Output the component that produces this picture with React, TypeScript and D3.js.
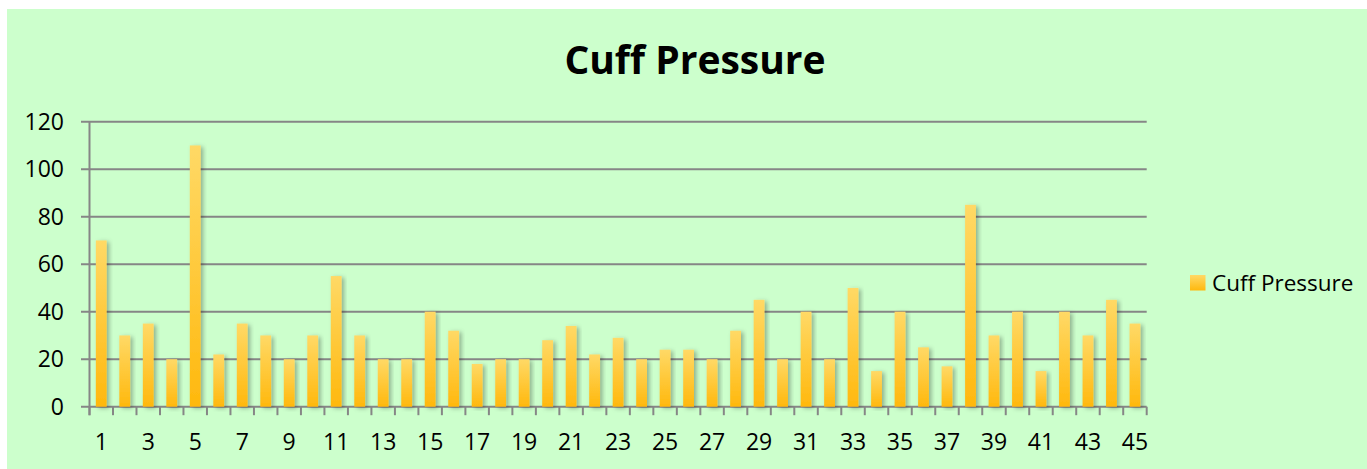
import React, { useRef, useEffect } from "react";
import * as d3 from "d3";

const categories = [
  1, 2, 3, 4, 5, 6, 7, 8, 9, 10, 11, 12, 13, 14, 15, 16, 17, 18, 19, 20, 21, 22, 23,
  24, 25, 26, 27, 28, 29, 30, 31, 32, 33, 34, 35, 36, 37, 38, 39, 40, 41, 42, 43, 44, 45,
];
const cuffPressure = [
  70, 30, 35, 20, 110, 22, 35, 30, 20, 30, 55, 30, 20, 20, 40, 32, 18, 20, 20, 28, 34, 22, 29,
  20, 24, 24, 20, 32, 45, 20, 40, 20, 50, 15, 40, 25, 17, 85, 30, 40, 15, 40, 30, 45, 35,
];
const yTicks = [0, 20, 40, 60, 80, 100, 120];
const seriesName = "Cuff Pressure";
const title = "Cuff Pressure";

const App = () => {
  const svgRef = useRef<SVGSVGElement>(null);

  useEffect(() => {
    const width = 1367;
    const height = 469;
    const left = 89.5;
    const right = 1146.7;
    const top = 121.7;
    const bottom = 406.7;
    const font = "'Open Sans', sans-serif";
    const gridColor = "#868686";

    const svg = d3.select(svgRef.current);
    svg.selectAll("*").remove();
    svg.attr("width", width).attr("height", height);

    const defs = svg.append("defs");
    const grad = defs
      .append("linearGradient")
      .attr("id", "barGrad")
      .attr("x1", 0)
      .attr("y1", 0)
      .attr("x2", 0)
      .attr("y2", 1);
    grad.append("stop").attr("offset", "0%").attr("stop-color", "#ffd966");
    grad.append("stop").attr("offset", "100%").attr("stop-color", "#ffb80d");

    const shadow = defs
      .append("filter")
      .attr("id", "shadow")
      .attr("x", "-50%")
      .attr("y", "-10%")
      .attr("width", "200%")
      .attr("height", "120%");
    shadow
      .append("feDropShadow")
      .attr("dx", 2.5)
      .attr("dy", 1.5)
      .attr("stdDeviation", 2)
      .attr("flood-color", "#000")
      .attr("flood-opacity", 0.3);

    // background
    svg
      .append("rect")
      .attr("x", 7)
      .attr("y", 9)
      .attr("width", width - 7)
      .attr("height", height - 9)
      .attr("fill", "#ccffcc");

    const x = d3
      .scaleBand<number>()
      .domain(categories)
      .range([left, right])
      .paddingInner(0.54)
      .paddingOuter(0.27);
    const step = (right - left) / categories.length;
    const y = d3.scaleLinear().domain([0, 120]).range([bottom, top]);

    // gridlines + y ticks
    svg
      .append("g")
      .selectAll("line")
      .data(yTicks)
      .join("line")
      .attr("x1", left - 8.5)
      .attr("x2", right)
      .attr("y1", (d) => y(d))
      .attr("y2", (d) => y(d))
      .attr("stroke", gridColor)
      .attr("stroke-width", 2);

    // y axis line
    svg
      .append("line")
      .attr("x1", left)
      .attr("x2", left)
      .attr("y1", top)
      .attr("y2", bottom + 8.5)
      .attr("stroke", gridColor)
      .attr("stroke-width", 2);

    // x ticks at category boundaries
    svg
      .append("g")
      .selectAll("line")
      .data(d3.range(categories.length + 1))
      .join("line")
      .attr("x1", (i) => left + i * step)
      .attr("x2", (i) => left + i * step)
      .attr("y1", bottom)
      .attr("y2", bottom + 8.5)
      .attr("stroke", gridColor)
      .attr("stroke-width", 2);

    // bars
    svg
      .append("g")
      .selectAll("rect")
      .data(cuffPressure)
      .join("rect")
      .attr("x", (d, i) => x(categories[i])!)
      .attr("y", (d) => y(d))
      .attr("width", x.bandwidth())
      .attr("height", (d) => bottom - y(d))
      .attr("fill", "url(#barGrad)")
      .attr("filter", "url(#shadow)");

    // y labels
    svg
      .append("g")
      .selectAll("text")
      .data(yTicks)
      .join("text")
      .attr("x", 64)
      .attr("y", (d) => y(d))
      .attr("dy", "0.36em")
      .attr("text-anchor", "end")
      .style("font-family", font)
      .style("font-size", "23px")
      .attr("fill", "#000")
      .text((d) => d);

    // x labels (every other)
    svg
      .append("g")
      .selectAll("text")
      .data(categories.filter((c, i) => i % 2 === 0))
      .join("text")
      .attr("x", (d) => x(d)! + x.bandwidth() / 2)
      .attr("y", 450)
      .attr("text-anchor", "middle")
      .style("font-family", font)
      .style("font-size", "23px")
      .attr("fill", "#000")
      .text((d) => d);

    // title
    svg
      .append("text")
      .attr("x", 695)
      .attr("y", 74)
      .attr("text-anchor", "middle")
      .style("font-family", font)
      .style("font-size", "39px")
      .style("font-weight", "700")
      .attr("fill", "#000")
      .text(title);

    // legend
    const legend = svg.append("g").attr("transform", "translate(1190, 275)");
    legend
      .append("rect")
      .attr("width", 15.5)
      .attr("height", 15.5)
      .attr("fill", "url(#barGrad)");
    legend
      .append("text")
      .attr("x", 22)
      .attr("y", 16)
      .style("font-family", font)
      .style("font-size", "22.5px")
      .attr("fill", "#000")
      .text(seriesName);
  }, []);

  return (
    <svg
      ref={svgRef}
      style={{ position: "absolute", left: 0, top: 0, display: "block" }}
    ></svg>
  );
};

export default App;
